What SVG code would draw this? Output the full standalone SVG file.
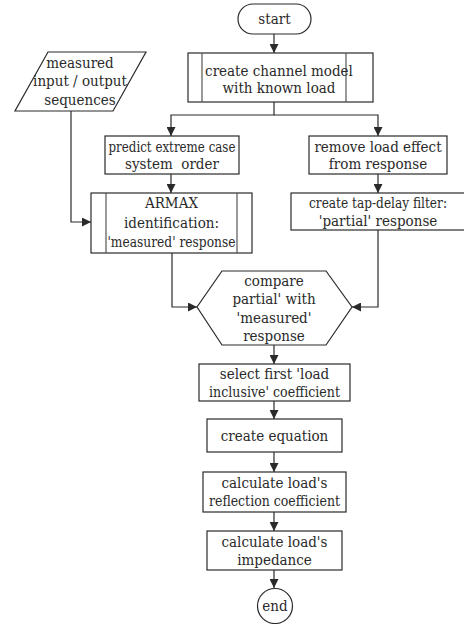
<svg xmlns="http://www.w3.org/2000/svg" width="464" height="624" viewBox="0 0 464 624">
<defs>
<marker id="ah" viewBox="0 0 10 10" refX="10" refY="5" markerWidth="9" markerHeight="9" markerUnits="userSpaceOnUse" orient="auto">
<path d="M0,0 L10,5 L0,10 z" fill="#2a2a2a"/>
</marker>
<style>
.s{fill:#fff;stroke:#2a2a2a;stroke-width:1.2}
.in{stroke:#555;stroke-width:1.2}
.c{fill:none;stroke:#2a2a2a;stroke-width:1.2}
.t{font-family:"DejaVu Serif",serif;font-stretch:condensed;font-size:15px;fill:#2a2a2a;text-anchor:middle}
</style>
</defs>
<rect width="464" height="624" fill="#fff"/>
<g id="connectors">
<path class="c" d="M274,34 V53" marker-end="url(#ah)"/>
<path class="c" d="M274,102 V115 H171 V136" marker-end="url(#ah)"/>
<path class="c" d="M274,115 H378 V136" marker-end="url(#ah)"/>
<path class="c" d="M71,111 V222 H91" marker-end="url(#ah)"/>
<path class="c" d="M171,174 V193" marker-end="url(#ah)"/>
<path class="c" d="M378,174 V193" marker-end="url(#ah)"/>
<path class="c" d="M172,253 V307 H197" marker-end="url(#ah)"/>
<path class="c" d="M378,230 V307 H352" marker-end="url(#ah)"/>
<path class="c" d="M274,345 V364" marker-end="url(#ah)"/>
<path class="c" d="M274,401 V419" marker-end="url(#ah)"/>
<path class="c" d="M274,452 V472" marker-end="url(#ah)"/>
<path class="c" d="M274,512 V531" marker-end="url(#ah)"/>
<path class="c" d="M274,570 V588" marker-end="url(#ah)"/>
</g>
<g class="t">
<g id="start">
<rect class="s" x="238" y="4" width="73" height="30" rx="15"/>
<text x="274.5" y="24">start</text>
</g>
<g id="channel">
<rect class="s" x="188" y="53" width="185" height="49"/>
<line class="in" x1="202" y1="53" x2="202" y2="102"/>
<line class="in" x1="346" y1="53" x2="346" y2="102"/>
<text x="279" y="76">create channel model</text>
<text x="279" y="93">with known load</text>
</g>
<g id="measured">
<polygon class="s" points="48,52 146,52 113,111 15,111"/>
<text x="80" y="68">measured</text>
<text x="80" y="86">input / output</text>
<text x="80" y="105">sequences</text>
</g>
<g id="predict">
<rect class="s" x="105" y="136" width="134" height="38"/>
<text x="172" y="152" textLength="127" lengthAdjust="spacingAndGlyphs">predict extreme case</text>
<text x="172" y="169" xml:space="preserve">system  order</text>
</g>
<g id="remove">
<rect class="s" x="309" y="136" width="138" height="38"/>
<text x="378" y="152">remove load effect</text>
<text x="378" y="169">from response</text>
</g>
<g id="armax">
<rect class="s" x="91" y="193" width="161" height="60"/>
<line class="in" x1="106" y1="193" x2="106" y2="253"/>
<line class="in" x1="237" y1="193" x2="237" y2="253"/>
<text x="171.5" y="208">ARMAX</text>
<text x="171.5" y="228">identification:</text>
<text x="171.5" y="247" textLength="128" lengthAdjust="spacingAndGlyphs">'measured' response</text>
</g>
<g id="tapdelay">
<rect class="s" x="291" y="193" width="175" height="37"/>
<text x="378" y="208" textLength="138" lengthAdjust="spacingAndGlyphs">create tap-delay filter:</text>
<text x="378" y="226">'partial' response</text>
</g>
<g id="compare">
<polygon class="s" points="222,271 326,271 352,307 326,345 222,345 197,307"/>
<text x="274" y="286">compare</text>
<text x="274" y="304">partial' with</text>
<text x="274" y="323">'measured'</text>
<text x="274" y="341">response</text>
</g>
<g id="select">
<rect class="s" x="199" y="364" width="151" height="37"/>
<text x="274.5" y="379">select first 'load</text>
<text x="274.5" y="397" textLength="131" lengthAdjust="spacingAndGlyphs">inclusive' coefficient</text>
</g>
<g id="equation">
<rect class="s" x="207" y="419" width="135" height="33"/>
<text x="274.5" y="441">create equation</text>
</g>
<g id="reflection">
<rect class="s" x="203" y="472" width="143" height="40"/>
<text x="274.5" y="488">calculate load's</text>
<text x="274.5" y="506" textLength="131" lengthAdjust="spacingAndGlyphs">reflection coefficient</text>
</g>
<g id="impedance">
<rect class="s" x="207" y="531" width="135" height="39"/>
<text x="274.5" y="547">calculate load's</text>
<text x="274.5" y="565">impedance</text>
</g>
<g id="end">
<circle class="s" cx="275" cy="606" r="17.5"/>
<text x="275" y="611">end</text>
</g>
</g>
</svg>
